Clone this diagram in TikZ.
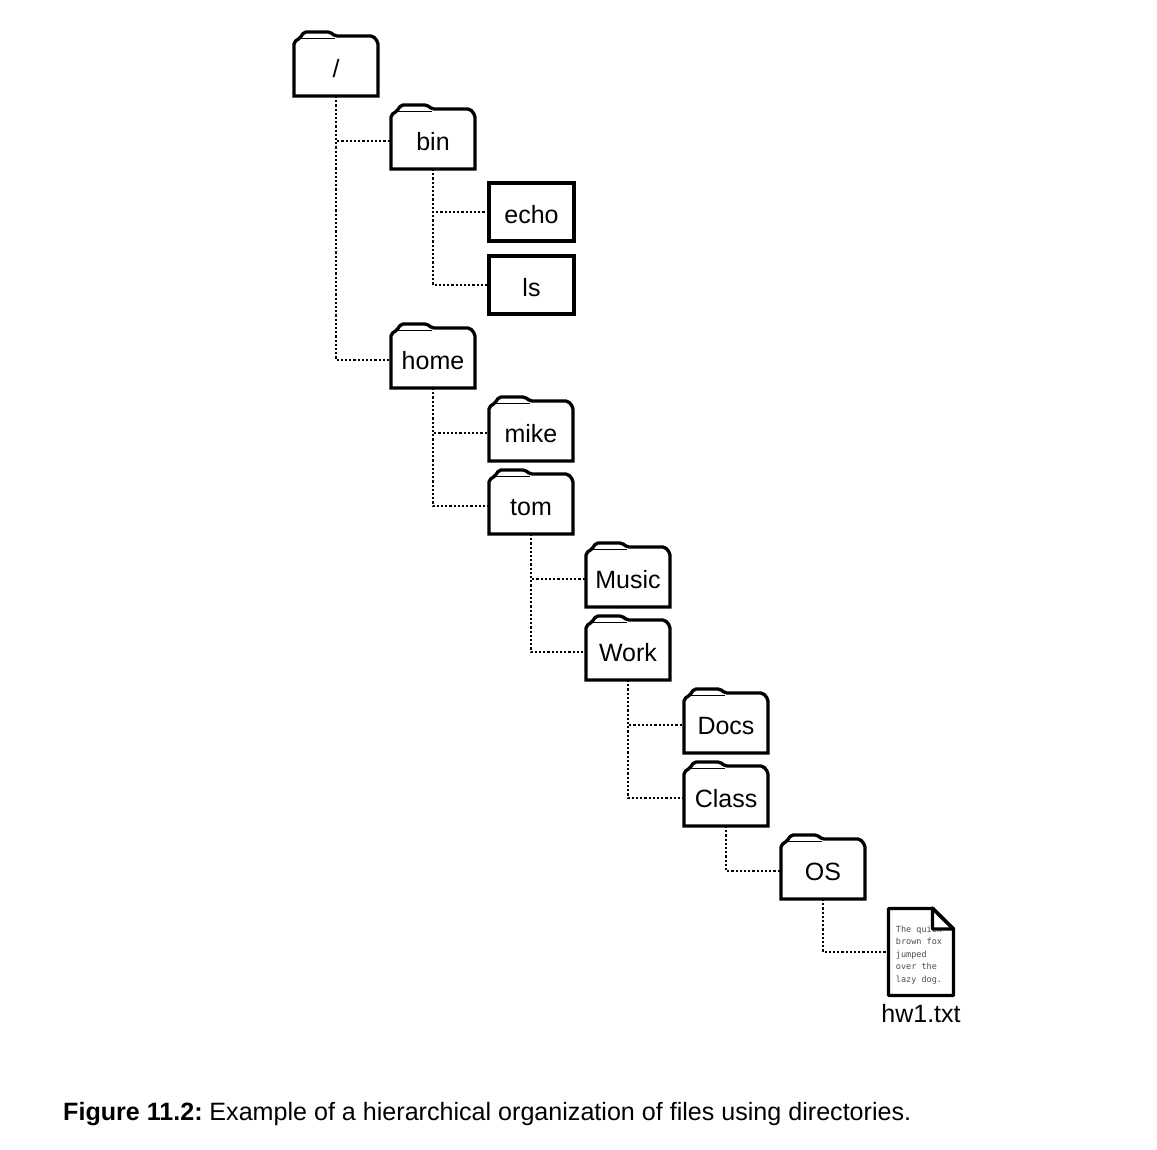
\documentclass[tikz,border=0pt]{standalone}
\usepackage{fontspec}
\setmainfont{Liberation Sans}
\newfontfamily\snippetfont{DejaVu Sans Mono}
\usetikzlibrary{positioning}
\tikzset{
	itembox/.style={minimum width=84pt, minimum height=56pt, inner sep=0pt, outer sep=0pt, font=\fontsize{25}{25}\selectfont, text height=18pt, text depth=0pt},
	outline/.style={line width=3.3pt, line join=miter},
	dotlink/.style={line width=2.2pt, dash pattern=on 2.2pt off 2pt},
}

\begin{document}
\begin{tikzpicture}[x=1pt,y=-1pt]
	\useasboundingbox (0, 0) rectangle (1157, 1149);

	\foreach \nm/\x/\y/\txt in {root/336/68/{/}, bin/433/141/bin, home/433/360/home, mike/531/433/mike, tom/531/506/tom, music/628/579/Music, work/628/652/Work, docs/726/725/Docs, class/726/798/Class, os/823/871/OS} {
		\node[itembox] (\nm) at (\x, \y) {\txt};
		\draw[outline] (\nm.south west) [rounded corners=2pt] -- ++(0, -54) -- ++(6, -4) -- ++(4, -6) -- ++(26, 0) -- ++(5, 4) -- ++(38, 0) -- ++(5, 6) [sharp corners] -- (\nm.south east) -- cycle;
		\draw[line width=1pt] ([shift={(6, -57.5)}]\nm.south west) -- ++(35, 0);
	}

	\foreach \nm/\y/\txt in {echo/212/echo, ls/285/ls} {
		\node[itembox, draw, outline, minimum width=85pt, minimum height=58pt, text height=22pt] (\nm) at (531.5, \y) {\txt};
	}

	\node[itembox, minimum width=65pt, minimum height=87pt] (hw) at (921, 952) {};
	\node[inner sep=0pt, align=left, text=black!70, font=\snippetfont\fontsize{8.5}{12.5}\selectfont] (snippet) at (919, 955) {The quick\\brown fox\\jumped\\over the\\lazy dog.};
	\draw[outline, line join=round, fill=white] (hw.north east |- 0, 929) -- ++(-21, -21) -- ++(0, 21) -- cycle;
	\draw[outline, line join=round] (hw.south west) -- (hw.north west) -- ++(44, 0) -- (hw.north east |- 0, 929) -- (hw.south east) -- cycle;
	\node[below=9pt of hw, inner sep=0pt, font=\fontsize{25}{25}\selectfont] (hwname) {hw1.txt};

	\foreach \from/\to in {root/bin, root/home, bin/echo, bin/ls, home/mike, home/tom, tom/music, tom/work, work/docs, work/class, class/os, os/hw} {
		\draw[dotlink] (\from.south) |- (\to.west);
	}

	\node[anchor=base west, inner sep=0pt, font=\fontsize{25.1}{25}\selectfont] (caption) at (63, 1120) {\textbf{Figure 11.2:}\hspace{-2.5pt} Example of a hierarchical organization of files using directories.};
\end{tikzpicture}
\end{document}
